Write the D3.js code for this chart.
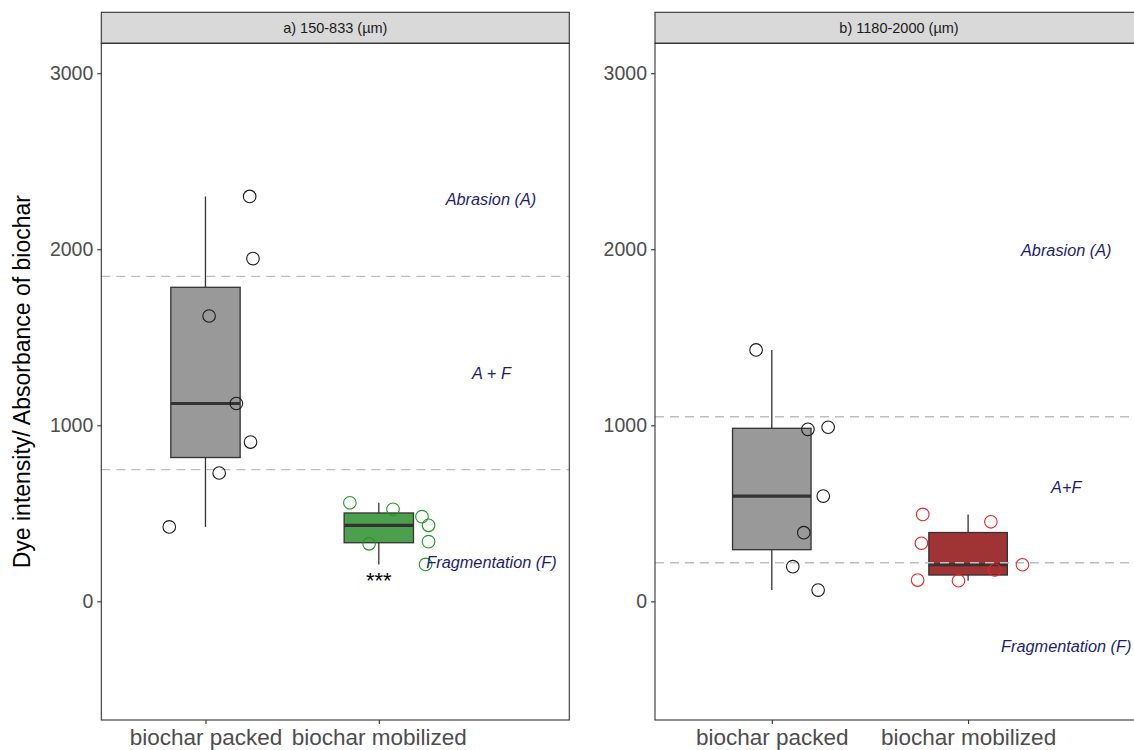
<!DOCTYPE html>
<html>
<head>
<meta charset="utf-8">
<script src="https://cdn.jsdelivr.net/npm/d3@7"></script>
<style>
  body { margin: 0; background: #fff; }
  svg { font-family: "Liberation Sans", Arial, sans-serif; display: block; }
</style>
</head>
<body>
<div id="chart"></div>
<script>
var svgWidth = 1134;
var svgHeight = 750;

// data
var categories = ["biochar packed", "biochar mobilized"];
var panelTitles = ["a) 150-833 (\u00b5m)", "b) 1180-2000 (\u00b5m)"];
var yTicks = [0, 1000, 2000, 3000];

// panel a
var packedA = [2300, 1947, 1621, 1124, 905, 729, 423];
var packedAJitter = [0.255, 0.274, 0.021, 0.178, 0.26, 0.079, -0.209];
var mobilizedA = [560, 523, 481, 432, 339, 327, 210];
var mobilizedAJitter = [-0.167, 0.082, 0.249, 0.287, 0.287, -0.056, 0.27];
var refLinesA = [1846, 748];
var labelsA = ["Abrasion (A)", "A + F", "Fragmentation (F)"];
var labelsAx = [2.647, 2.65, 2.65];
var labelsAy = [2286, 1297, 223];

// panel b
var packedB = [1428, 977, 989, 598, 390, 197, 64];
var packedBJitter = [-0.08, 0.184, 0.287, 0.262, 0.163, 0.107, 0.236];
var mobilizedB = [494, 452, 330, 208, 178, 121, 117];
var mobilizedBJitter = [-0.231, 0.116, -0.238, 0.277, 0.136, -0.257, -0.049];
var refLinesB = [1049, 219];
var labelsB = ["Abrasion (A)", "A+F", "Fragmentation (F)"];
var labelsBx = [2.5, 2.5, 2.5];
var labelsBy = [1996, 649, -258];

var signifLabel = "***";

var panelTop = 43.3;
var panelBottom = 720;
var stripTop = 12.3;

var svg = d3.select("#chart")
  .append("svg")
  .attr("width", svgWidth)
  .attr("height", svgHeight);

var yScale = d3.scaleLinear()
  .domain([-674, 3170])
  .range([panelBottom, panelTop]);

var panels = [
  {
    title: panelTitles[0], left: 101.3, right: 569.3, domain: [0.399, 3.099],
    groups: [
      { values: packedA, jitter: packedAJitter, fill: "#999999", pt: "#1a1a1a" },
      { values: mobilizedA, jitter: mobilizedAJitter, fill: "#4c9f4c", pt: "#1f9a1f" }
    ],
    refLines: refLinesA, labels: labelsA, lx: labelsAx, ly: labelsAy, signif: true
  },
  {
    title: panelTitles[1], left: 655, right: 1143, domain: [0.405, 2.891],
    groups: [
      { values: packedB, jitter: packedBJitter, fill: "#999999", pt: "#1a1a1a" },
      { values: mobilizedB, jitter: mobilizedBJitter, fill: "#a03434", pt: "#ee2222" }
    ],
    refLines: refLinesB, labels: labelsB, lx: labelsBx, ly: labelsBy, signif: false
  }
];

panels.forEach(function(p) {
  var xScale = d3.scaleLinear()
    .domain(p.domain)
    .range([p.left, p.right]);

  var g = svg.append("g");

  // strip
  g.append("rect")
    .attr("x", p.left)
    .attr("y", stripTop)
    .attr("width", p.right - p.left)
    .attr("height", panelTop - stripTop)
    .attr("fill", "#d9d9d9")
    .attr("stroke", "#333333")
    .attr("stroke-width", 1.1);

  g.append("text")
    .attr("x", (p.left + p.right) / 2)
    .attr("y", (stripTop + panelTop) / 2)
    .attr("dy", "0.35em")
    .attr("text-anchor", "middle")
    .attr("font-size", "14.5px")
    .attr("fill", "#1a1a1a")
    .text(p.title);

  // boxes
  p.groups.forEach(function(grp, i) {
    var cx = xScale(i + 1);
    var halfW = (xScale(1.2) - xScale(1));
    var sorted = grp.values.slice().sort(d3.ascending);
    var q1 = d3.quantile(sorted, 0.25);
    var med = d3.quantile(sorted, 0.5);
    var q3 = d3.quantile(sorted, 0.75);
    var iqr = q3 - q1;
    var lo = d3.min(sorted.filter(d => d >= q1 - 1.5 * iqr));
    var hi = d3.max(sorted.filter(d => d <= q3 + 1.5 * iqr));

    g.append("line")
      .attr("x1", cx).attr("x2", cx)
      .attr("y1", yScale(hi)).attr("y2", yScale(q3))
      .attr("stroke", "#333333").attr("stroke-width", 1.3);
    g.append("line")
      .attr("x1", cx).attr("x2", cx)
      .attr("y1", yScale(q1)).attr("y2", yScale(lo))
      .attr("stroke", "#333333").attr("stroke-width", 1.3);

    g.append("rect")
      .attr("x", cx - halfW)
      .attr("y", yScale(q3))
      .attr("width", 2 * halfW)
      .attr("height", yScale(q1) - yScale(q3))
      .attr("fill", grp.fill)
      .attr("stroke", "#333333")
      .attr("stroke-width", 1.3);

    g.append("line")
      .attr("x1", cx - halfW).attr("x2", cx + halfW)
      .attr("y1", yScale(med)).attr("y2", yScale(med))
      .attr("stroke", "#333333").attr("stroke-width", 3.2);
  });

  // dashed reference lines
  g.selectAll(".refLine")
    .data(p.refLines)
    .enter()
    .append("line")
    .attr("x1", p.left).attr("x2", p.right)
    .attr("y1", d => yScale(d)).attr("y2", d => yScale(d))
    .attr("stroke", "#bebebe")
    .attr("stroke-width", 1.4)
    .attr("stroke-dasharray", "9,6");

  // points
  p.groups.forEach(function(grp, i) {
    g.selectAll(".pt" + i)
      .data(grp.values)
      .enter()
      .append("circle")
      .attr("cx", (d, j) => xScale(i + 1 + grp.jitter[j]))
      .attr("cy", d => yScale(d))
      .attr("r", 6.3)
      .attr("fill", "none")
      .attr("stroke", grp.pt)
      .attr("stroke-width", 1.1);
  });

  // annotations
  g.selectAll(".annot")
    .data(p.labels)
    .enter()
    .append("text")
    .attr("x", (d, j) => xScale(p.lx[j]))
    .attr("y", (d, j) => yScale(p.ly[j]))
    .attr("dy", "0.35em")
    .attr("text-anchor", "middle")
    .attr("font-size", "16.3px")
    .attr("font-style", "italic")
    .attr("fill", "#1d1d70")
    .text(d => d);

  if (p.signif) {
    g.append("text")
      .attr("x", xScale(2))
      .attr("y", yScale(75))
      .attr("text-anchor", "middle")
      .attr("font-size", "22px")
      .attr("fill", "#000")
      .text(signifLabel);
  }

  // panel border
  g.append("rect")
    .attr("x", p.left)
    .attr("y", panelTop)
    .attr("width", p.right - p.left)
    .attr("height", panelBottom - panelTop)
    .attr("fill", "none")
    .attr("stroke", "#333333")
    .attr("stroke-width", 1.1);

  // axes
  var leftAxis = d3.axisLeft(yScale)
    .tickValues(yTicks)
    .tickFormat(d3.format("d"))
    .tickSize(4)
    .tickPadding(4);
  var yAx = svg.append("g")
    .attr("transform", `translate(${p.left}, 0)`)
    .call(leftAxis);
  yAx.select(".domain").remove();
  yAx.selectAll("line").attr("stroke", "#333333").attr("stroke-width", 1.1);
  yAx.selectAll("text")
    .attr("font-size", "19.5px")
    .attr("font-family", "Liberation Sans, Arial, sans-serif")
    .attr("fill", "#4d4d4d");

  var bottomAxis = d3.axisBottom(xScale)
    .tickValues([1, 2])
    .tickFormat(d => categories[d - 1])
    .tickSize(4)
    .tickPadding(5);
  var xAx = svg.append("g")
    .attr("transform", `translate(0, ${panelBottom})`)
    .call(bottomAxis);
  xAx.select(".domain").remove();
  xAx.selectAll("line").attr("stroke", "#333333").attr("stroke-width", 1.1);
  xAx.selectAll("text")
    .attr("font-size", "22.5px")
    .attr("font-family", "Liberation Sans, Arial, sans-serif")
    .attr("fill", "#4d4d4d");
});

// Y-Axis Label
svg.append("text")
  .attr("transform", `translate(22, ${(panelTop + panelBottom) / 2}) rotate(-90)`)
  .attr("dy", "0.35em")
  .attr("text-anchor", "middle")
  .attr("font-size", "23px")
  .attr("fill", "#000")
  .text("Dye intensity/ Absorbance of biochar");
</script>
</body>
</html>
